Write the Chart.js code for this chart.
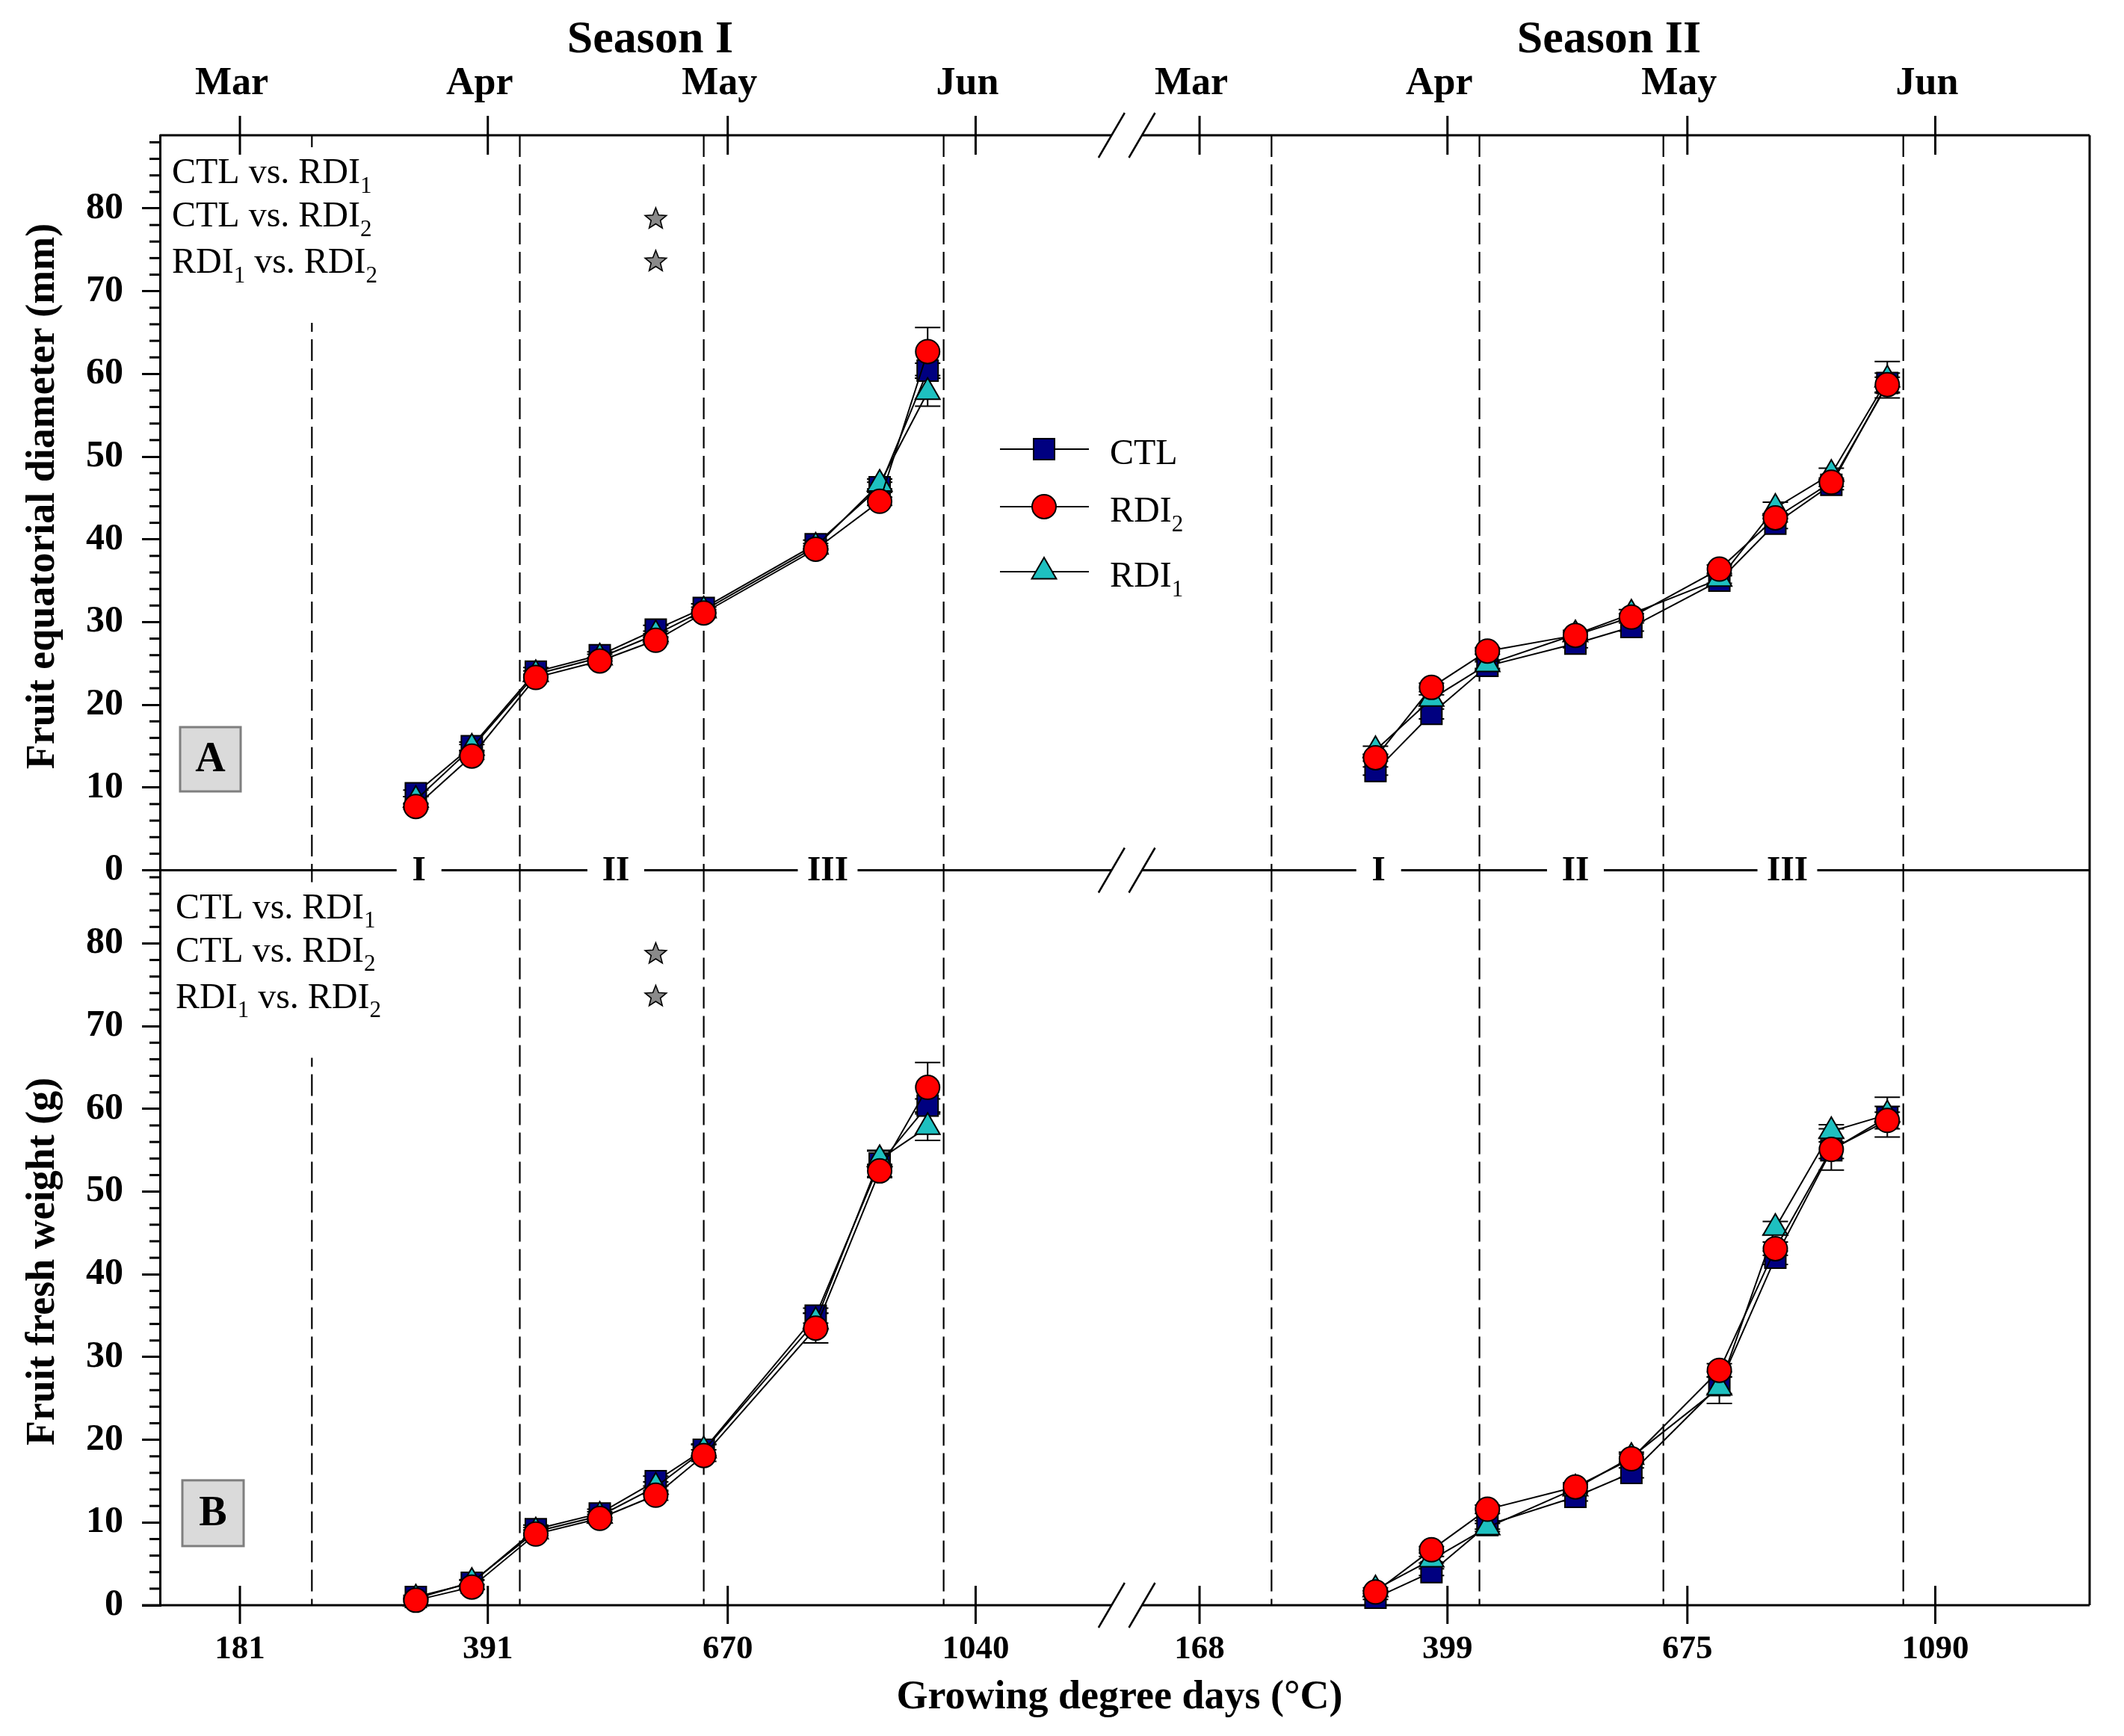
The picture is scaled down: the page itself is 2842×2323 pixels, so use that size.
<!DOCTYPE html>
<html>
<head>
<meta charset="utf-8">
<script src="https://cdn.jsdelivr.net/npm/chart.js@4.4.1/dist/chart.umd.min.js"></script>
<style>
html,body{margin:0;padding:0;background:#fff;}
#wrap{width:2842px;height:2323px;position:relative;}
</style>
</head>
<body>
<div id="wrap"><canvas id="c"></canvas></div>
<script>
// ---------------- DATA ----------------
// sampling dates, days after 1 March of each season
const season1Days = [22, 29, 37, 45, 52, 58, 72, 80, 86];
const season2Days = [22, 29, 36, 47, 54, 65, 72, 79, 86];
// season II is drawn after season I on the broken axis
const SEASON2_SHIFT = 120;

// Fruit equatorial diameter (mm)
const diamS1_CTL  = [9.3, 15.0, 24.0, 26.0, 29.1, 31.7, 39.4, 46.3, 60.4];
const diamS1_RDI2 = [7.7, 13.8, 23.3, 25.3, 27.8, 31.1, 38.8, 44.6, 62.7];
const diamS1_RDI1 = [8.5, 14.8, 23.7, 25.7, 28.5, 31.4, 39.1, 46.7, 57.8];
const diamS1_CTL_se  = [0.4, 0.5, 0.5, 0.4, 0.5, 0.5, 0.5, 0.6, 0.9];
const diamS1_RDI2_se = [0.3, 0.4, 0.4, 0.4, 0.4, 0.4, 0.4, 0.5, 2.9];
const diamS1_RDI1_se = [0.4, 0.4, 0.4, 0.4, 0.4, 0.4, 0.4, 0.6, 1.7];

const diamS2_CTL  = [12.0, 18.9, 24.7, 27.4, 29.4, 35.0, 41.9, 46.6, 58.9];
const diamS2_RDI2 = [13.6, 22.1, 26.5, 28.4, 30.6, 36.4, 42.6, 46.9, 58.7];
const diamS2_RDI1 = [14.5, 20.7, 24.9, 28.5, 31.0, 35.2, 43.8, 47.9, 59.3];
const diamS2_CTL_se  = [0.5, 0.6, 0.5, 0.5, 0.5, 0.6, 0.6, 0.6, 1.2];
const diamS2_RDI2_se = [0.4, 0.5, 0.4, 0.4, 0.4, 0.5, 0.5, 0.5, 0.9];
const diamS2_RDI1_se = [0.5, 0.5, 0.5, 0.5, 0.5, 0.5, 0.7, 0.7, 2.2];

// Fruit fresh weight (g)
const weightS1_CTL  = [1.0, 2.7, 9.2, 11.1, 15.0, 18.8, 35.0, 53.4, 60.4];
const weightS1_RDI2 = [0.6, 2.2, 8.6, 10.5, 13.3, 18.1, 33.5, 52.5, 62.6];
const weightS1_RDI1 = [0.8, 2.8, 8.9, 10.8, 14.3, 18.7, 34.3, 53.9, 57.8];
const weightS1_CTL_se  = [0.2, 0.3, 0.5, 0.5, 0.6, 0.7, 0.9, 1.6, 0.8];
const weightS1_RDI2_se = [0.2, 0.3, 0.5, 0.5, 0.6, 0.7, 1.8, 0.8, 3.0];
const weightS1_RDI1_se = [0.2, 0.3, 0.5, 0.5, 0.6, 0.7, 1.0, 1.0, 1.6];

const weightS2_CTL  = [0.9, 4.0, 9.7, 13.1, 16.0, 26.6, 42.0, 55.0, 59.0];
const weightS2_RDI2 = [1.6, 6.7, 11.6, 14.3, 17.7, 28.4, 43.1, 55.1, 58.6];
const weightS2_RDI1 = [1.9, 5.5, 9.4, 14.1, 17.9, 26.3, 45.6, 57.3, 59.3];
const weightS2_CTL_se  = [0.2, 0.4, 0.5, 0.5, 0.6, 1.0, 0.8, 1.0, 2.4];
const weightS2_RDI2_se = [0.2, 0.4, 0.5, 0.5, 0.6, 0.8, 0.8, 2.5, 1.0];
const weightS2_RDI1_se = [0.2, 0.4, 0.5, 0.5, 0.6, 1.9, 0.8, 0.8, 1.0];

// axis ticks: 1st of Mar/Apr/May/Jun of both seasons (days on the broken axis)
const monthTickDays = [0, 31, 61, 92, 120, 151, 181, 212];
const monthLabels = ['Mar', 'Apr', 'May', 'Jun', 'Mar', 'Apr', 'May', 'Jun'];
const gddLabels = ['181', '391', '670', '1040', '168', '399', '675', '1090'];
const yTickLabels = [0, 10, 20, 30, 40, 50, 60, 70, 80];

// phenological phases
const phaseBoundaryDays = [9, 35, 58, 88];
const phaseNames = ['I', 'II', 'III'];
const phaseCenterDays = [22.4, 47, 73.5];
// significance marks (day of star) for the three comparisons
const comparisonRows = [
  [['CTL vs. RDI', 0], ['1', 1]],
  [['CTL vs. RDI', 0], ['2', 1]],
  [['RDI', 0], ['1', 1], [' vs. RDI', 0], ['2', 1]]
];
const starDaysPerRow = [[], [52], [52]];
const seasonTitles = ['Season I', 'Season II'];

// ---------------- STYLES ----------------
const FONT = '"Liberation Serif", "Times New Roman", serif';
const font = (size, bold) => `${bold ? 'bold ' : ''}${size}px ${FONT}`;
const STYLE = {
  CTL:  {pointStyle: 'rect',     radius: 19.8, bg: '#000080', order: 2},
  RDI1: {pointStyle: 'triangle', radius: 19,   bg: '#1ec0c0', order: 1},
  RDI2: {pointStyle: 'circle',   radius: 16,   bg: '#ff0000', order: 0}
};
const X_MIN = -10, X_MAX = 231.3;
const Y_MAX = 88.85;
const breakDays = [109, 112.8];

function makeSet(axis, days, shift, vals, se, key) {
  const s = STYLE[key];
  return {
    label: key,
    yAxisID: axis,
    xAxisID: 'x',
    data: days.map((d, i) => ({x: d + shift, y: vals[i]})),
    errors: se,
    borderColor: '#000',
    borderWidth: 2,
    pointStyle: s.pointStyle,
    pointRadius: s.radius,
    pointHoverRadius: s.radius,
    pointBackgroundColor: s.bg,
    pointBorderColor: '#000',
    pointBorderWidth: 2,
    tension: 0,
    fill: false,
    clip: false,
    order: s.order
  };
}

const datasets = [
  makeSet('yTop', season1Days, 0, diamS1_CTL, diamS1_CTL_se, 'CTL'),
  makeSet('yTop', season1Days, 0, diamS1_RDI1, diamS1_RDI1_se, 'RDI1'),
  makeSet('yTop', season1Days, 0, diamS1_RDI2, diamS1_RDI2_se, 'RDI2'),
  makeSet('yTop', season2Days, SEASON2_SHIFT, diamS2_CTL, diamS2_CTL_se, 'CTL'),
  makeSet('yTop', season2Days, SEASON2_SHIFT, diamS2_RDI1, diamS2_RDI1_se, 'RDI1'),
  makeSet('yTop', season2Days, SEASON2_SHIFT, diamS2_RDI2, diamS2_RDI2_se, 'RDI2'),
  makeSet('yBot', season1Days, 0, weightS1_CTL, weightS1_CTL_se, 'CTL'),
  makeSet('yBot', season1Days, 0, weightS1_RDI1, weightS1_RDI1_se, 'RDI1'),
  makeSet('yBot', season1Days, 0, weightS1_RDI2, weightS1_RDI2_se, 'RDI2'),
  makeSet('yBot', season2Days, SEASON2_SHIFT, weightS2_CTL, weightS2_CTL_se, 'CTL'),
  makeSet('yBot', season2Days, SEASON2_SHIFT, weightS2_RDI1, weightS2_RDI1_se, 'RDI1'),
  makeSet('yBot', season2Days, SEASON2_SHIFT, weightS2_RDI2, weightS2_RDI2_se, 'RDI2')
];

// ---------------- helpers ----------------
function hLine(ctx, x0, x1, y, gaps) {
  const gs = gaps.slice().sort((a, b) => a[0] - b[0]);
  let cur = x0;
  ctx.beginPath();
  for (const [g0, g1] of gs) {
    if (g0 > cur) { ctx.moveTo(cur, y); ctx.lineTo(g0, y); }
    cur = Math.max(cur, g1);
  }
  if (cur < x1) { ctx.moveTo(cur, y); ctx.lineTo(x1, y); }
  ctx.stroke();
}
function line(ctx, x0, y0, x1, y1) {
  ctx.beginPath(); ctx.moveTo(x0, y0); ctx.lineTo(x1, y1); ctx.stroke();
}
function richText(ctx, parts, x, y, size) {
  let cx = x;
  ctx.textAlign = 'left';
  ctx.textBaseline = 'alphabetic';
  for (const [t, sub] of parts) {
    ctx.font = sub ? font(Math.round(size * 0.64), false) : font(size, false);
    ctx.fillText(t, cx, sub ? y + size * 0.27 : y);
    cx += ctx.measureText(t).width;
  }
}
function star(ctx, cx, cy, R, r) {
  ctx.beginPath();
  for (let i = 0; i < 10; i++) {
    const rad = i % 2 === 0 ? R : r;
    const a = -Math.PI / 2 + i * Math.PI / 5;
    const px = cx + rad * Math.cos(a), py = cy + rad * Math.sin(a);
    if (i === 0) ctx.moveTo(px, py); else ctx.lineTo(px, py);
  }
  ctx.closePath();
  ctx.fillStyle = '#8a8a8a';
  ctx.fill();
  ctx.lineWidth = 1.6;
  ctx.strokeStyle = '#000';
  ctx.stroke();
}
function marker(ctx, key, x, y) {
  const s = STYLE[key];
  ctx.fillStyle = s.bg;
  ctx.strokeStyle = '#000';
  ctx.lineWidth = 2;
  Chart.helpers.drawPoint(ctx, {pointStyle: s.pointStyle, radius: s.radius, rotation: 0, borderWidth: 2}, x, y);
}

const overlayPlugin = {
  id: 'overlay',
  beforeDatasetsDraw(chart) {
    const {ctx, chartArea: ca, scales} = chart;
    const xs = scales.x, yT = scales.yTop, yB = scales.yBot;
    const L = ca.left, R = ca.right, T = ca.top, B = ca.bottom;
    const M = yT.getPixelForValue(0);
    ctx.save();
    ctx.strokeStyle = '#000';
    ctx.fillStyle = '#000';

    // phase boundaries (dashed)
    ctx.lineWidth = 2.2;
    ctx.setLineDash([29, 10]);
    for (const shift of [0, SEASON2_SHIFT]) {
      for (const d of phaseBoundaryDays) {
        const px = xs.getPixelForValue(d + shift);
        line(ctx, px, T, px, M);
        line(ctx, px, M, px, B);
      }
    }
    ctx.setLineDash([]);

    // white masks behind comparison labels
    ctx.fillStyle = '#fff';
    for (const top of [T, M]) ctx.fillRect(L + 3, top + 16, 330, 235);

    // frame with axis break
    const bx0 = xs.getPixelForValue(breakDays[0]);
    const bx1 = xs.getPixelForValue(breakDays[1]);
    ctx.lineWidth = 3;
    hLine(ctx, L, R, T, [[bx0, bx1]]);
    const phaseGapHalf = [30, 38, 40];
    const midGaps = [[bx0, bx1]];
    const phasePos = [];
    for (const shift of [0, SEASON2_SHIFT]) {
      phaseCenterDays.forEach((d, i) => {
        const px = xs.getPixelForValue(d + shift);
        midGaps.push([px - phaseGapHalf[i], px + phaseGapHalf[i]]);
        phasePos.push([px, phaseNames[i]]);
      });
    }
    hLine(ctx, L - 24, R, M, midGaps);
    hLine(ctx, L - 24, R, B, [[bx0, bx1]]);
    line(ctx, R, T, R, B);

    // break slashes
    ctx.lineWidth = 2.5;
    for (const y of [T, M, B]) {
      for (const cx of [bx0, bx1]) line(ctx, cx - 17.5, y + 30, cx + 17.5, y - 30);
    }

    // month ticks (top) and GDD ticks (bottom), crossing the frame
    ctx.lineWidth = 3;
    for (const d of monthTickDays) {
      const px = xs.getPixelForValue(d);
      line(ctx, px, T - 26, px, T + 26);
      line(ctx, px, B - 26, px, B + 25);
    }
    // minor ticks on the y axes
    for (const sc of [yT, yB]) {
      for (let v = 2; v < Y_MAX; v += 2) {
        if (v % 10 === 0) continue;
        const py = sc.getPixelForValue(v);
        line(ctx, L - 14, py, L, py);
      }
    }

    // phase labels on the middle line
    ctx.fillStyle = '#000';
    ctx.font = font(47, true);
    ctx.textAlign = 'center';
    ctx.textBaseline = 'middle';
    for (const [px, name] of phasePos) ctx.fillText(name, px, M + 1);

    // comparison labels + stars
    const rowOffsets = [64, 122, 184];
    const starOffsets = [0, 112, 169];
    [[T, L + 16], [M, L + 21]].forEach(([top, lx]) => {
      ctx.fillStyle = '#000';
      comparisonRows.forEach((parts, i) => richText(ctx, parts, lx, top + rowOffsets[i], 48));
      starDaysPerRow.forEach((days, i) => {
        for (const d of days) star(ctx, xs.getPixelForValue(d), top + starOffsets[i], 15, 6.5);
      });
    });

    // panel letters
    const boxes = [['A', L + 27, yT.getPixelForValue(17.3), 81, 86], ['B', L + 30, yB.getPixelForValue(15.1), 82, 88]];
    for (const [t, bx, by, bw, bh] of boxes) {
      ctx.fillStyle = '#dadada';
      ctx.fillRect(bx, by, bw, bh);
      ctx.strokeStyle = '#7f7f7f';
      ctx.lineWidth = 3;
      ctx.strokeRect(bx, by, bw, bh);
      ctx.fillStyle = '#000';
      ctx.font = font(56, true);
      ctx.textAlign = 'center';
      ctx.textBaseline = 'middle';
      ctx.fillText(t, bx + bw / 2, by + bh / 2 + 2);
    }

    // error bars
    ctx.strokeStyle = '#000';
    ctx.lineWidth = 2;
    chart.data.datasets.forEach((ds, i) => {
      const meta = chart.getDatasetMeta(i);
      const sc = scales[ds.yAxisID];
      meta.data.forEach((pt, j) => {
        const v = ds.data[j].y, e = ds.errors[j];
        const y0 = sc.getPixelForValue(v + e), y1 = sc.getPixelForValue(v - e);
        line(ctx, pt.x, y0, pt.x, y1);
        line(ctx, pt.x - 17, y0, pt.x + 17, y0);
        line(ctx, pt.x - 17, y1, pt.x + 17, y1);
      });
    });

    // legend
    const legendRows = [['CTL', [['CTL', 0]], 601], ['RDI2', [['RDI', 0], ['2', 1]], 678], ['RDI1', [['RDI', 0], ['1', 1]], 765]];
    for (const [key, parts, y] of legendRows) {
      ctx.strokeStyle = '#000';
      ctx.lineWidth = 2;
      line(ctx, 1338, y, 1457, y);
      marker(ctx, key, 1397, y);
      ctx.fillStyle = '#000';
      richText(ctx, parts, 1485, y + 20, 48);
    }

    // season titles
    ctx.fillStyle = '#000';
    ctx.font = font(62, true);
    ctx.textAlign = 'center';
    ctx.textBaseline = 'alphabetic';
    ctx.fillText(seasonTitles[0], xs.getPixelForValue(51.3), 70);
    ctx.fillText(seasonTitles[1], xs.getPixelForValue(171.2), 70);

    // axis titles
    ctx.font = font(54, true);
    ctx.fillText('Growing degree days (°C)', (L + R) / 2 - 7, 2286);
    const yTitles = [['Fruit equatorial diameter (mm)', 664], ['Fruit fresh weight (g)', 1688]];
    for (const [t, cy] of yTitles) {
      ctx.save();
      ctx.translate(72, cy);
      ctx.rotate(-Math.PI / 2);
      ctx.fillText(t, 0, 0);
      ctx.restore();
    }
    ctx.restore();
  }
};

const yAxis = (weight) => ({
  type: 'linear',
  position: 'left',
  stack: 'panels',
  stackWeight: 1,
  weight: weight,
  min: 0,
  max: Y_MAX,
  afterBuildTicks: (s) => { s.ticks = yTickLabels.map(v => ({value: v})); },
  ticks: {
    stepSize: 10,
    includeBounds: false,
    color: '#000',
    font: {family: FONT, size: 50, weight: 'bold'},
    padding: 25
  },
  grid: {display: true, drawOnChartArea: false, drawTicks: true, tickLength: 24, color: '#000', lineWidth: 3},
  border: {display: true, color: '#000', width: 3},
  afterFit: (s) => { s.width = 214; }
});

new Chart(document.getElementById('c'), {
  type: 'line',
  data: {datasets},
  options: {
    responsive: true,
    maintainAspectRatio: false,
    devicePixelRatio: 1,
    animation: false,
    layout: {padding: {left: 0, right: 46, top: 0, bottom: 0}},
    plugins: {legend: {display: false}, tooltip: {enabled: false}, title: {display: false}},
    events: [],
    scales: {
      x: {
        type: 'linear',
        position: 'bottom',
        min: X_MIN,
        max: X_MAX,
        afterBuildTicks: (s) => { s.ticks = monthTickDays.map(v => ({value: v})); },
        ticks: {
          autoSkip: false, maxRotation: 0, minRotation: 0,
          color: '#000',
          font: {family: FONT, size: 45, weight: 'bold'},
          padding: 32,
          callback: (v, i) => gddLabels[i]
        },
        grid: {display: false, drawTicks: false},
        border: {display: false},
        afterFit: (s) => { s.height = 175; }
      },
      xTop: {
        type: 'linear',
        position: 'top',
        min: X_MIN,
        max: X_MAX,
        afterBuildTicks: (s) => { s.ticks = monthTickDays.map(v => ({value: v})); },
        ticks: {
          autoSkip: false, maxRotation: 0, minRotation: 0,
          color: '#000',
          font: {family: FONT, size: 52, weight: 'bold'},
          padding: 37,
          labelOffset: -11,
          callback: (v, i) => monthLabels[i]
        },
        grid: {display: false, drawTicks: false},
        border: {display: false},
        afterFit: (s) => { s.height = 181; }
      },
      yTop: yAxis(10),
      yBot: yAxis(5)
    }
  },
  plugins: [overlayPlugin]
});
</script>
</body>
</html>
